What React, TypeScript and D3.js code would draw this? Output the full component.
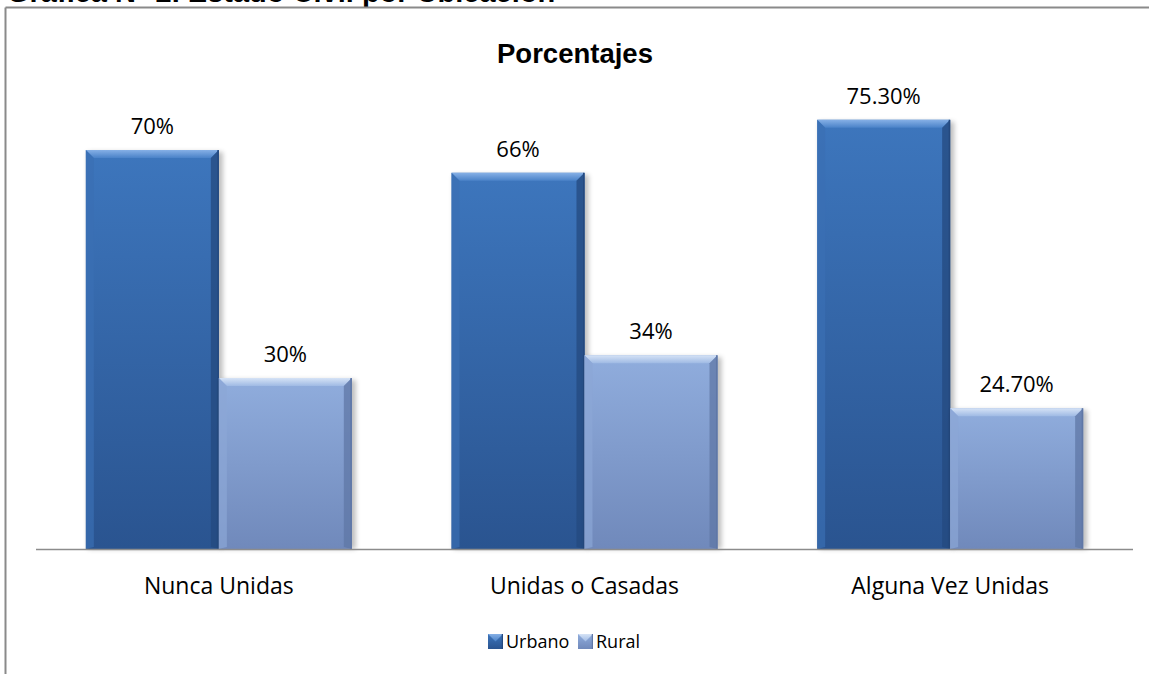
import React from "react";
import * as d3 from "d3";

const categories = ["Nunca Unidas", "Unidas o Casadas", "Alguna Vez Unidas"];
const seriesNames = ["Urbano", "Rural"];
const urbanoValues = [70, 66, 75.3];
const ruralValues = [30, 34, 24.7];
const urbanoLabels = ["70%", "66%", "75.30%"];
const ruralLabels = ["30%", "34%", "24.70%"];
const chartTitle = "Porcentajes";
const pageHeading = "Gráfica N° 2. Estado Civil por Ubicación";

const W = 1149;
const H = 674;
const axisY = 549;
const plotLeft = 36;
const plotRight = 1133;

const palettes: Record<string, any> = {
  Urbano: {
    bodyTop: "#3d76bd",
    bodyBot: "#2a5490",
    bevelTop1: "#86b0e6",
    bevelTop2: "#4a82c8",
    left: "#3a6fb3",
    right: "#24497f",
  },
  Rural: {
    bodyTop: "#90addd",
    bodyBot: "#7089bb",
    bevelTop1: "#d6e3f6",
    bevelTop2: "#9fbae4",
    left: "#8ba6d6",
    right: "#5f77a6",
  },
};

function BevelBar({ x, y, w, h, name }: any) {
  const p = palettes[name];
  const b = Math.min(8, h / 2);
  const x1 = x + w;
  const y1 = y + h;
  return (
    <g>
      <rect x={x + 2} y={y + 2} width={w + 2} height={h - 2} fill="#000" opacity={0.25} filter="url(#shadow)" />
      <rect x={x} y={y} width={w} height={h} fill={`url(#body-${name})`} />
      <polygon
        points={`${x},${y} ${x1},${y} ${x1 - b},${y + b} ${x + b},${y + b}`}
        fill={`url(#top-${name})`}
      />
      <polygon
        points={`${x},${y} ${x + b},${y + b} ${x + b},${y1 - 2} ${x},${y1}`}
        fill={p.left}
        opacity={0.7}
      />
      <polygon
        points={`${x1},${y} ${x1},${y1} ${x1 - b},${y1 - 2} ${x1 - b},${y + b}`}
        fill={p.right}
        opacity={0.75}
      />
      <rect x={x1 - 1.5} y={y} width={1.5} height={h} fill={p.right} />
    </g>
  );
}

export default function App() {
  const y = d3.scaleLinear().domain([0, 80]).range([axisY, axisY - 80 * 5.7]);
  const x0 = d3
    .scaleBand<string>()
    .domain(categories)
    .range([plotLeft, plotRight])
    .paddingInner(0.2726)
    .paddingOuter(0.1363);
  const x1 = d3.scaleBand<string>().domain(seriesNames).range([0, x0.bandwidth()]).padding(0);

  const seriesData: Record<string, { v: number[]; l: string[] }> = {
    Urbano: { v: urbanoValues, l: urbanoLabels },
    Rural: { v: ruralValues, l: ruralLabels },
  };

  const labelFont = "'Open Sans', sans-serif";

  return (
    <svg
      width={W}
      height={H}
      viewBox={`0 0 ${W} ${H}`}
      style={{ position: "absolute", left: 0, top: 0, background: "#fff" }}
    >
      <defs>
        <filter id="shadow" x="-20%" y="-10%" width="140%" height="130%">
          <feGaussianBlur stdDeviation="2.5" />
        </filter>
        {seriesNames.map((n) => (
          <React.Fragment key={n}>
            <linearGradient id={`body-${n}`} x1="0" y1="0" x2="0" y2="1">
              <stop offset="0" stopColor={palettes[n].bodyTop} />
              <stop offset="1" stopColor={palettes[n].bodyBot} />
            </linearGradient>
            <linearGradient id={`top-${n}`} x1="0" y1="0" x2="0" y2="1">
              <stop offset="0" stopColor={palettes[n].bevelTop1} />
              <stop offset="1" stopColor={palettes[n].bevelTop2} />
            </linearGradient>
          </React.Fragment>
        ))}
      </defs>
      <rect x={0} y={0} width={W} height={H} fill="#fff" />

      <text
        x={7}
        y={2}
        fontFamily="'Liberation Sans', Arial, sans-serif"
        fontWeight="bold"
        fontSize={29}
        fill="#000"
      >
        {pageHeading}
      </text>

      <line x1={5.5} y1={7.5} x2={W} y2={7.5} stroke="#8a8a8a" strokeWidth={2} />
      <line x1={5.5} y1={7.5} x2={5.5} y2={H} stroke="#8a8a8a" strokeWidth={2} />

      <text
        x={575}
        y={63}
        textAnchor="middle"
        fontFamily="'Liberation Sans', Arial, sans-serif"
        fontWeight="bold"
        fontSize={27.5}
        fill="#000"
      >
        {chartTitle}
      </text>

      {categories.map((c, i) => (
        <g key={c}>
          {seriesNames.map((n) => {
            const v = seriesData[n].v[i];
            const bx = (x0(c) as number) + (x1(n) as number);
            const bw = x1.bandwidth();
            const top = y(v);
            return (
              <g key={n}>
                <BevelBar x={bx} y={top} w={bw} h={axisY - top} name={n} />
                <text
                  x={bx + bw / 2}
                  y={top - 16}
                  textAnchor="middle"
                  fontFamily={labelFont}
                  fontSize={22}
                  fill="#000"
                >
                  {seriesData[n].l[i]}
                </text>
              </g>
            );
          })}
        </g>
      ))}

      <line x1={plotLeft} y1={axisY + 0.5} x2={plotRight} y2={axisY + 0.5} stroke="#8c8c8c" strokeWidth={1.5} />

      {categories.map((c) => (
        <text
          key={c}
          x={(x0(c) as number) + x0.bandwidth() / 2}
          y={594}
          textAnchor="middle"
          fontFamily={labelFont}
          fontSize={23}
          fill="#000"
        >
          {c}
        </text>
      ))}

      {seriesNames.map((n, i) => {
        const lx = i === 0 ? 488 : 578;
        return (
          <g key={n}>
            <rect x={lx} y={634} width={15} height={15} fill={`url(#body-${n})`} />
            <polygon
              points={`${lx},634 ${lx + 15},634 ${lx + 7.5},641.5`}
              fill={`url(#top-${n})`}
            />
            <rect x={lx + 13.8} y={634} width={1.2} height={15} fill={palettes[n].right} />
            <text x={lx + 18} y={648} fontFamily={labelFont} fontSize={18} fill="#000">
              {n}
            </text>
          </g>
        );
      })}
    </svg>
  );
}
